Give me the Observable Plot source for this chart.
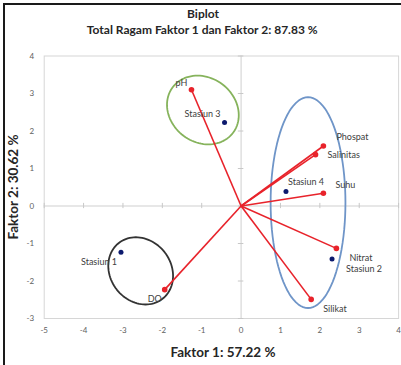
<!DOCTYPE html>
<html>
<head>
<meta charset="utf-8">
<script src="https://cdn.jsdelivr.net/npm/d3@7"></script>
<script src="https://cdn.jsdelivr.net/npm/@observablehq/plot@0.6"></script>
<style>
  html, body { margin: 0; padding: 0; background: #fff; }
  #wrap { position: relative; width: 401px; height: 365px; overflow: hidden; }
  #border { position: absolute; left: 3px; top: 3px; width: 420px; height: 400px;
            border-left: 2px solid #1a1a1a; border-top: 2px solid #1a1a1a; pointer-events: none; }
</style>
</head>
<body>
<div id="wrap"><div id="border"></div></div>
<script>
// ---- data ----
const varNames = ["pH", "Phospat", "Salinitas", "Suhu", "Nitrat", "Silikat", "DO"];
const varX = [-1.26, 2.09, 1.89, 2.09, 2.42, 1.78, -1.94];
const varY = [3.10, 1.60, 1.37, 0.34, -1.13, -2.49, -2.23];

const stationNames = ["Stasiun 1", "Stasiun 2", "Stasiun 3", "Stasiun 4"];
const stationX = [-3.05, 2.31, -0.42, 1.14];
const stationY = [-1.23, -1.41, 2.23, 0.39];

const ellipseNames = ["Kelompok 1", "Kelompok 3", "Kelompok 2"];
const ellipseCX = [-2.55, -0.97, 1.70];
const ellipseCY = [-1.73, 2.56, 0.09];
const ellipseRX = [0.90, 0.96, 0.95];
const ellipseRY = [0.81, 0.86, 2.81];
const ellipseAngle = [-52, -37, 0];

const xTicks = [-5, -4, -3, -2, -1, 0, 1, 2, 3, 4];
const yTicks = [-3, -2, -1, 0, 1, 2, 3, 4];

const titleText = "Biplot";
const subtitleText = "Total Ragam Faktor 1 dan Faktor 2: 87.83 %";
const xLabelText = "Faktor 1: 57.22 %";
const yLabelText = "Faktor 2: 30.62 %";

// ---- layout ----
const W = 401, H = 365;
const mL = 43.7, mR = 2.9, mT = 55.5, mB = 47;
const kx = (W - mL - mR) / 9, ky = (H - mT - mB) / 7;

const vars = varNames.map((n, i) => ({name: n, x: varX[i], y: varY[i]}));
const stations = stationNames.map((n, i) => ({name: n, x: stationX[i], y: stationY[i]}));
const ellipseColors = ["#333333", "#86b35c", "#6f95c8"];

const ellipsePts = [];
ellipseNames.forEach((g, i) => {
  const a = ellipseRX[i] * kx, b = ellipseRY[i] * ky, phi = ellipseAngle[i] * Math.PI / 180;
  for (let k = 0; k <= 96; k++) {
    const t = 2 * Math.PI * k / 96;
    const dxp = a * Math.cos(t) * Math.cos(phi) - b * Math.sin(t) * Math.sin(phi);
    const dyp = a * Math.cos(t) * Math.sin(phi) + b * Math.sin(t) * Math.cos(phi);
    ellipsePts.push({g, color: ellipseColors[i], x: ellipseCX[i] + dxp / kx, y: ellipseCY[i] + dyp / ky});
  }
});

// label placement (pixel offsets, anchor)
const labelStyle = {
  "pH": [-10, -7, "middle"],
  "Phospat": [13, -9, "start"],
  "Salinitas": [12, 0, "start"],
  "Suhu": [12, -8, "start"],
  "Nitrat": [13, 10, "start"],
  "Silikat": [12, 10, "start"],
  "DO": [-3, 9, "end"],
  "Stasiun 1": [-4, 10, "end"],
  "Stasiun 2": [14, 10, "start"],
  "Stasiun 3": [-4, -8, "end"],
  "Stasiun 4": [2, -9, "start"]
};
const labelMarks = [...vars, ...stations].map(d => {
  const [dx, dy, anchor] = labelStyle[d.name];
  return Plot.text([d], {x: "x", y: "y", text: "name", dx, dy, textAnchor: anchor,
    fill: "#404040", fontSize: 9});
});

const red = "#e8232b";
const tickLen = 0.07;

const chart = Plot.plot({
  width: W, height: H,
  marginLeft: mL, marginRight: mR, marginTop: mT, marginBottom: mB,
  style: {fontFamily: "Lato, 'Open Sans', sans-serif", background: "transparent"},
  x: {domain: [-5, 4]},
  y: {domain: [-3, 4]},
  marks: [
    Plot.frame({stroke: "#d6d6d6"}),
    Plot.ruleX([0], {stroke: "#cfcfcf"}),
    Plot.ruleY([0], {stroke: "#cfcfcf"}),
    Plot.ruleX(xTicks, {x: d => d, y1: -tickLen, y2: tickLen, stroke: "#c8c8c8"}),
    Plot.ruleY(yTicks, {y: d => d, x1: -tickLen, x2: tickLen, stroke: "#c8c8c8"}),
    Plot.axisX({ticks: xTicks, tickSize: 0, tickPadding: 9, fontSize: 8, fill: "#606060", label: null, tickFormat: d => String(d)}),
    Plot.axisY({ticks: yTicks, tickSize: 0, tickPadding: 10, fontSize: 8, fill: "#606060", label: null, tickFormat: d => String(d)}),
    Plot.line(ellipsePts, {x: "x", y: "y", z: "g", stroke: "color", strokeWidth: 1.8, curve: "linear"}),
    Plot.link(vars, {x1: () => 0, y1: () => 0, x2: "x", y2: "y", stroke: red, strokeWidth: 1.6}),
    Plot.dot(vars, {x: "x", y: "y", r: 2.8, fill: red}),
    Plot.dot(stations, {x: "x", y: "y", r: 2.5, fill: "#0c1a6e"}),
    ...labelMarks,
    Plot.text([titleText], {frameAnchor: "top-left", dx: 158.8, dy: -42.2, textAnchor: "middle", lineAnchor: "middle",
      fontSize: 12, fontWeight: "bold", fill: "#262626"}),
    Plot.text([subtitleText], {frameAnchor: "top-left", dx: 158, dy: -25.5, textAnchor: "middle", lineAnchor: "middle",
      fontSize: 12, fontWeight: "bold", fill: "#262626"}),
    Plot.text([xLabelText], {frameAnchor: "top-left", dx: 178.8, dy: 296.2, textAnchor: "middle", lineAnchor: "middle",
      fontSize: 13.5, fontWeight: "bold", fill: "#262626"}),
    Plot.text([yLabelText], {frameAnchor: "top-left", dx: -30.4, dy: 131, rotate: -90, textAnchor: "middle", lineAnchor: "middle",
      fontSize: 13.5, fontWeight: "bold", fill: "#262626"})
  ]
});
chart.style.position = "absolute";
chart.style.left = "0px";
chart.style.top = "0px";
document.getElementById("wrap").insertBefore(chart, document.getElementById("border"));
</script>
</body>
</html>
